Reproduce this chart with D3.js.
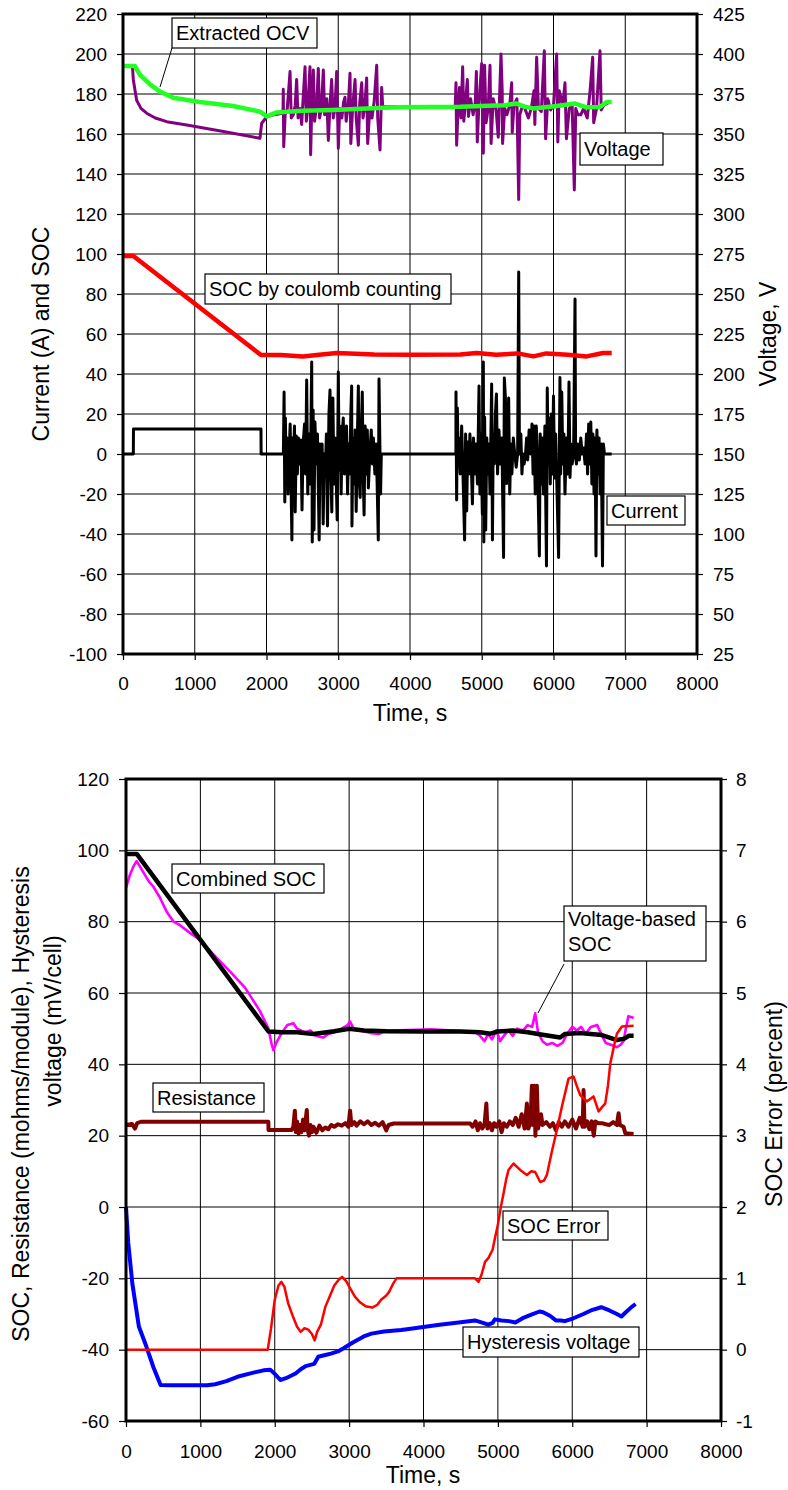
<!DOCTYPE html>
<html><head><meta charset="utf-8">
<script src="https://cdn.jsdelivr.net/npm/d3@7"></script>
<style>
body{margin:0;background:#fff}
text{font-family:"Liberation Sans",Arial,Helvetica,sans-serif;fill:#000}
</style>
</head><body>
<svg id="c" width="788" height="1490"></svg>
<script>
// ---------- tick labels ----------
const timeTicks = [0,1000,2000,3000,4000,5000,6000,7000,8000];
const currentTicks = [-100,-80,-60,-40,-20,0,20,40,60,80,100,120,140,160,180,200,220];
const voltageTicks = [25,50,75,100,125,150,175,200,225,250,275,300,325,350,375,400,425];
const leftTicks2 = [-60,-40,-20,0,20,40,60,80,100,120];
const errorTicks = [-1,0,1,2,3,4,5,6,7,8];

// ---------- top chart series ([time s, value]) ----------
const extractedOCV = [[0,392.5],[165,392.5],[237,387],[376,381],[516,376.5],[701,372.7],[1073,370],[1533,367.5],[1909,364],[2003,361],[2142,363.5],[2500,364.5],[2927,365],[3400,366],[3815,366.7],[4300,366.8],[4700,367],[5000,367.5],[5300,368],[5487,369],[5600,367],[5719,366],[6044,367.5],[6300,369],[6463,366.7],[6648,366.9],[6741,370],[6811,370]];

const voltage = [[0,392.5],[130,392.5],[135,390],[144,383.8],[191,371],[250,366],[330,363],[450,360],[609,357.7],[888,355.6],[1400,351.5],[1909,347.3],[1920,352],[1933,356.7],[2003,360.8],[2100,362],[2230,363],
[2234,378],[2240,342],[2260,362],[2290,366],[2328,389],[2345,360],[2374,362],[2400,368],[2420,384],[2440,360],[2470,366],[2490,356],[2510,372],[2537,392],[2555,358],[2580,370],[2606,392],[2615,337],[2630,365],[2653,390],[2670,358],[2700,368],[2722,391],[2740,360],[2765,366],[2792,390],[2810,362],[2840,372],[2862,346],[2885,368],[2908,384],[2930,360],[2955,366],[2978,389],[3001,341],[3020,366],[3050,360],[3075,370],[3094,373],[3110,358],[3140,368],[3164,388],[3175,344],[3200,366],[3234,384],[3250,360],[3280,343],[3300,370],[3327,382],[3345,360],[3370,367],[3396,385],[3410,344],[3440,366],[3470,360],[3500,370],[3536,393],[3550,360],[3582,340],[3605,379],[3620,367],
[4000,367],[4630,367],
[4641,382],[4650,343],[4670,366],[4690,379],[4710,360],[4734,392],[4750,358],[4775,370],[4799,384],[4815,361],[4845,372],[4880,362],[4910,370],[4925,389],[4938,345],[4960,368],[4999,394],[5022,338],[5040,393],[5060,357],[5090,366],[5115,393],[5130,344],[5160,372],[5200,365],[5230,348],[5268,400],[5285,377],[5290,344],[5320,366],[5350,362],[5390,368],[5417,382],[5425,351],[5450,368],[5490,372],[5515,309],[5530,362],[5570,368],[5600,366],[5650,360],[5690,366],[5728,377],[5740,356],[5765,398],[5790,366],[5830,364],[5872,402],[5890,347],[5920,372],[5960,365],[6000,368],[6044,400],[6060,345],[6080,377],[6130,368],[6160,382],[6180,347],[6220,366],[6260,368],[6290,315],[6310,366],[6340,362],[6380,362],[6420,366],[6470,360],[6510,377],[6546,398],[6560,357],[6600,366],[6648,402],[6665,365],[6700,368],[6788,370]];

const socCoulomb = [[0,99],[144,99],[1923,49.5],[2200,49.5],[2509,48.7],[2700,49.5],[2978,50.5],[3500,49.8],[4000,49.6],[4700,49.7],[4930,50.5],[5200,49.6],[5500,50.3],[5720,48.8],[5900,50.3],[6200,49.6],[6463,48.8],[6690,50.5],[6811,50.5]];

const current = [[0,0],[144,0],[146,12.5],[1923,12.5],[1925,0],[2225,0],
[2235,0],[2245,31],[2255,-24],[2263,18],[2275,-10],[2290,8],[2300,-20],[2315,0],[2330,15],[2354,-43],[2362,8],[2375,-5],[2390,14],[2400,-29],[2415,9],[2430,-10],[2445,8],[2465,-5],[2480,7],[2495,-28],[2510,5],[2530,15],[2545,-10],[2560,37],[2575,-20],[2595,10],[2610,-15],[2630,46],[2638,-44],[2650,22],[2662,-38],[2675,16],[2695,-5],[2710,10],[2734,-43],[2745,5],[2760,-10],[2775,5],[2790,-35],[2805,0],[2820,-8],[2835,10],[2850,-36],[2870,20],[2885,32],[2895,-5],[2910,-29],[2925,28],[2940,-15],[2955,8],[2970,-10],[2985,-33],[3001,41],[3012,-8],[3025,14],[3040,-20],[3055,10],[3070,18],[3085,-10],[3100,-5],[3115,14],[3130,-20],[3145,5],[3160,-10],[3175,20],[3187,34],[3191,-36],[3205,8],[3220,-15],[3235,12],[3250,-28.8],[3265,5],[3280,34],[3290,-10],[3305,-21.7],[3320,10],[3335,31],[3345,-5],[3360,-30.5],[3375,14],[3390,-10],[3405,12],[3420,-17],[3440,0],[3460,12],[3475,-5],[3490,8],[3510,-10],[3530,5],[3545,-20],[3558,-43],[3568,37.5],[3580,5],[3590,-20],[3600,0],[4640,0],
[4641,31],[4650,-23],[4660,23],[4670,0],[4680,8],[4700,-10],[4720,14],[4735,-5],[4761,-43],[4775,10],[4790,-28.5],[4805,6],[4820,-10],[4835,10],[4850,0],[4870,-25],[4885,8],[4900,-10],[4920,5],[4940,-15],[4962,34],[4975,-20],[4990,10],[5008,-30],[5022,46],[5029,-44],[5040,18.5],[5055,-38],[5070,8],[5085,-10],[5100,5],[5115,-20],[5138,35],[5149,-43],[5160,10],[5175,-5],[5190,20],[5205,30],[5220,-10],[5240,12],[5260,-5],[5280,8],[5304,-51.7],[5315,38],[5330,28],[5345,-14.8],[5360,10],[5375,28],[5390,-20],[5405,5],[5420,-10],[5440,8],[5460,0],[5480,-6.6],[5500,0],[5515,91],[5525,0],[5545,10],[5560,-10],[5575,0],[5590,-5],[5610,0],[5625,8],[5640,-3],[5660,12],[5680,0],[5700,15],[5715,-10],[5730,14],[5745,-20],[5760,14],[5775,0],[5803,-51],[5815,10],[5830,-15],[5845,8],[5860,-20],[5880,14],[5902,-56],[5913,33],[5925,-5],[5940,18],[5955,-15],[5970,20],[5985,-10],[6000,29],[6015,-12],[6030,10],[6050,-20],[6071,-51.7],[6090,38.3],[6100,-10],[6115,31],[6130,-5],[6145,10],[6160,-20],[6180,8],[6200,-10],[6216,36],[6230,-11.7],[6245,5],[6260,-5],[6280,0],[6300,77.5],[6308,0],[6320,-5],[6340,5],[6360,-3],[6380,8],[6400,0],[6420,3],[6440,-5],[6460,10],[6475,-10],[6490,15],[6505,-5],[6520,16],[6535,-15],[6550,10],[6565,-20],[6580,8],[6592,-51],[6605,12],[6620,-10],[6635,8],[6650,-20],[6665,5],[6683,-56],[6695,5],[6710,0],[6811,0]];

// ---------- bottom chart series ----------
const combinedSOC = [[0,99],[144,99],[1915,49.2],[2100,49],[2300,49],[2520,48.5],[2800,49.3],[3000,50],[3200,49.5],[3500,49.3],[4000,49.2],[4500,49.2],[4762,49],[4900,48.6],[5000,49.2],[5200,49.5],[5400,49],[5600,48.3],[5838,47.5],[5900,48.5],[6100,48.8],[6400,48.2],[6600,46.8],[6700,47.2],[6760,48],[6825,48]];

const voltageSOC = [[0,89.5],[50,93],[100,95.5],[144,97],[200,95],[300,91.5],[368,89.8],[450,87],[547,82.8],[640,80],[726,79],[850,77],[995,74.9],[1200,70.3],[1400,66],[1600,61.5],[1800,55],[1915,50],[1960,45.5],[1982,44],[2020,46],[2100,49],[2170,51],[2251,51.5],[2300,50],[2400,49],[2480,49.5],[2550,48],[2650,47.5],[2720,48.5],[2800,49],[2900,50],[2980,51],[3013,52],[3060,50],[3150,49.5],[3300,48.7],[3400,48.5],[3500,49.5],[3800,49.6],[4100,49.8],[4400,49.5],[4700,49],[4760,48],[4820,46.5],[4870,48.5],[4920,47],[4980,49.5],[5030,46.5],[5080,48],[5140,49.5],[5200,48],[5260,50],[5340,49.5],[5400,51],[5460,50.5],[5502,54.3],[5540,49],[5600,46.5],[5660,45.5],[5730,46],[5800,45.2],[5870,46],[5930,48.5],[6000,50.5],[6060,49.5],[6120,50.5],[6180,48.5],[6250,50.5],[6336,51],[6400,48],[6450,46],[6520,45.5],[6600,44.8],[6650,45.5],[6690,46.5],[6720,50],[6755,53.5],[6800,53.2],[6825,53]];

const resistance = [[0,23],[80,23.3],[121,22],[150,23.5],[200,23.9],[1914,23.9],[1916,21.6],[2229,21.6],[2250,22.5],[2270,27],[2285,21],[2300,24],[2320,20.5],[2340,23],[2360,21],[2380,24.5],[2400,21.5],[2431,27.2],[2440,22],[2460,20],[2480,23],[2500,21],[2520,22.5],[2560,20.8],[2600,22.8],[2640,21.5],[2680,22.3],[2720,21.8],[2760,23],[2800,22.5],[2850,23.2],[2900,22.8],[2950,23.5],[2990,22.5],[3013,27],[3030,23],[3070,23.8],[3100,22.8],[3150,24],[3200,23.2],[3250,24],[3300,23],[3350,23.6],[3400,22.8],[3450,23.8],[3500,21.5],[3530,23],[3600,23.4],[4627,23.4],[4660,22.5],[4700,24],[4730,21.5],[4760,23.5],[4790,22],[4820,23],[4845,29],[4860,22],[4890,23.5],[4920,21.5],[4950,23.5],[4980,22.5],[5020,24],[5050,21],[5080,23.5],[5120,22.5],[5160,24],[5200,23],[5240,25],[5280,22.5],[5320,26],[5360,22],[5390,29],[5410,22],[5440,24],[5457,34],[5470,23],[5490,34],[5505,20],[5524,34],[5540,22],[5580,26],[5600,23],[5650,23.8],[5700,22.5],[5740,23.5],[5780,21.5],[5820,23.8],[5860,22.5],[5900,24],[5950,22.5],[6000,24.5],[6050,22],[6100,25],[6140,22.5],[6152,32.8],[6165,22.5],[6200,24],[6230,21.8],[6260,24],[6290,20],[6310,24],[6350,23.5],[6400,23.5],[6450,23.2],[6500,23],[6550,23.8],[6600,23],[6623,26.3],[6640,23],[6690,22.5],[6713,20.7],[6825,20.5]];

const socError = [[0,0],[1906,0],[1950,0.3],[2000,0.7],[2050,0.9],[2089,0.95],[2130,0.88],[2180,0.65],[2250,0.45],[2300,0.32],[2348,0.25],[2400,0.3],[2450,0.28],[2500,0.22],[2537,0.13],[2570,0.25],[2620,0.35],[2680,0.6],[2740,0.75],[2800,0.9],[2860,0.98],[2905,1.02],[2960,0.96],[3020,0.85],[3080,0.74],[3150,0.66],[3220,0.61],[3312,0.59],[3380,0.63],[3430,0.7],[3500,0.76],[3537,0.81],[3600,0.94],[3638,1.0],[4691,1.0],[4740,0.95],[4780,1.05],[4827,1.23],[4870,1.28],[4929,1.40],[4964,1.58],[5000,1.75],[5040,2.0],[5076,2.19],[5110,2.38],[5143,2.52],[5210,2.61],[5300,2.52],[5390,2.45],[5450,2.5],[5502,2.49],[5569,2.35],[5620,2.37],[5659,2.45],[5720,2.75],[5793,3.08],[5861,3.41],[5950,3.80],[6017,3.83],[6060,3.7],[6107,3.57],[6197,3.48],[6286,3.55],[6354,3.34],[6400,3.4],[6443,3.45],[6480,3.7],[6511,4.01],[6560,4.25],[6600,4.43],[6668,4.53],[6825,4.54]];

const hysteresis = [[0,0],[30,-10],[85,-21.4],[173,-33.5],[275,-39.2],[370,-45],[465,-49.9],[600,-50],[1090,-50],[1200,-49.7],[1350,-48.8],[1498,-47.6],[1700,-46.5],[1850,-45.8],[1939,-45.6],[2000,-46.8],[2075,-48.5],[2150,-48],[2280,-46.7],[2350,-45.5],[2415,-44.6],[2530,-44],[2585,-42],[2680,-41.5],[2755,-41.1],[2850,-40.5],[2925,-39.6],[3050,-38],[3197,-36.3],[3300,-35.5],[3468,-34.9],[3700,-34.5],[3876,-34],[4216,-33],[4500,-32.3],[4691,-31.8],[4800,-32.5],[4870,-33],[4929,-32.5],[4960,-31.5],[5050,-31.8],[5150,-32],[5235,-32.4],[5350,-31],[5450,-30.2],[5560,-29.3],[5608,-29.5],[5700,-30.5],[5780,-31.8],[5846,-31.8],[5900,-32],[6016,-31.2],[6150,-30],[6250,-29],[6390,-28.1],[6500,-29],[6600,-30],[6661,-30.7],[6720,-29.5],[6800,-28],[6852,-27.2]];

// ---------- drawing ----------
const svg = d3.select('#c');
const FONT = 19, TITLE = 23, NOTE = 20;
const plain = d => String(d);   // ASCII hyphen-minus like the original

function frame(cfg){
  const g = svg.append('g');
  const [x0,x1] = cfg.x.range(); const [y0,y1] = cfg.yL.range();
  g.append('g').selectAll('line').data(cfg.leftTicks).join('line')
    .attr('x1',x0).attr('x2',x1).attr('y1',d=>cfg.yL(d)).attr('y2',d=>cfg.yL(d))
    .attr('stroke','#000').attr('stroke-width',1);
  g.append('g').selectAll('line').data(timeTicks).join('line')
    .attr('y1',y0).attr('y2',y1).attr('x1',d=>cfg.x(d)).attr('x2',d=>cfg.x(d))
    .attr('stroke','#000').attr('stroke-width',1);
  const ax = [
    g.append('g').attr('transform',`translate(${x0},0)`).call(d3.axisLeft(cfg.yL).tickValues(cfg.leftTicks).tickFormat(plain).tickSize(cfg.tl).tickPadding(cfg.pl).tickSizeOuter(0)),
    g.append('g').attr('transform',`translate(${x1},0)`).call(d3.axisRight(cfg.yR).tickValues(cfg.rightTicks).tickFormat(plain).tickSize(6).tickPadding(cfg.pr).tickSizeOuter(0)),
    g.append('g').attr('transform',`translate(0,${y0})`).call(d3.axisBottom(cfg.x).tickValues(timeTicks).tickFormat(plain).tickSize(6).tickPadding(cfg.pb).tickSizeOuter(0))
  ];
  ax.forEach(a=>{
    a.attr('font-size',FONT).attr('font-family','"Liberation Sans",Arial,sans-serif');
    a.select('.domain').remove();
    a.selectAll('line').attr('stroke','#000').attr('stroke-width',1.2);
  });
  return g;
}
function border(cfg){
  const [x0,x1] = cfg.x.range(); const [y0,y1] = cfg.yL.range();
  svg.append('rect').attr('x',x0).attr('y',y1).attr('width',x1-x0).attr('height',y0-y1)
    .attr('fill','none').attr('stroke','#000').attr('stroke-width',3);
}
function series(data,xs,ys,color,w){
  svg.append('path').datum(data)
    .attr('d',d3.line().x(d=>xs(d[0])).y(d=>ys(d[1])))
    .attr('fill','none').attr('stroke',color).attr('stroke-width',w)
    .attr('stroke-linejoin','round').attr('stroke-linecap','butt');
}
function note(x,y,w,h,lines){
  svg.append('rect').attr('x',x).attr('y',y).attr('width',w).attr('height',h)
    .attr('fill','#fff').attr('stroke','#000').attr('stroke-width',1.2);
  lines.forEach((l,i)=>{
    svg.append('text').attr('x',x+4).attr('y',y+h/lines.length*(i+0.5)+7).attr('font-size',NOTE).text(l);
  });
}
function leader(xa,ya,xb,yb){
  svg.append('line').attr('x1',xa).attr('y1',ya).attr('x2',xb).attr('y2',yb).attr('stroke','#000').attr('stroke-width',1);
}
function vtitle(x,y,txt,size){
  svg.append('text').attr('transform',`translate(${x},${y}) rotate(-90)`)
    .attr('text-anchor','middle').attr('font-size',size||TITLE).text(txt);
}

// ===== chart 1 =====
const c1 = {
  x: d3.scaleLinear([0,8000],[123,697]),
  yL: d3.scaleLinear([-100,220],[654,14]),
  yR: d3.scaleLinear([25,425],[654,14]),
  leftTicks: currentTicks, rightTicks: voltageTicks, tl:6, pl:10, pr:10, pb:17
};
frame(c1);
series(current,c1.x,c1.yL,'#000',3);
series(socCoulomb,c1.x,c1.yL,'#ff0000',4.5);
series(voltage,c1.x,c1.yR,'#800080',3);
series(extractedOCV,c1.x,c1.yR,'#22ff22',4.5);
border(c1);
svg.append('text').attr('x',410).attr('y',721).attr('text-anchor','middle').attr('font-size',TITLE).text('Time, s');
vtitle(49,334,'Current (A) and SOC');
vtitle(776,334,'Voltage, V');
leader(172,48,160,87);
note(172,18,145,30,['Extracted OCV']);
note(580,133,83,32,['Voltage']);
note(205,274,246,30,['SOC by coulomb counting']);
note(607,496,78,29,['Current']);

// ===== chart 2 =====
const c2 = {
  x: d3.scaleLinear([0,8000],[126,721]),
  yL: d3.scaleLinear([-60,120],[1421,779]),
  yR: d3.scaleLinear([-1,8],[1421,779]),
  leftTicks: leftTicks2, rightTicks: errorTicks, tl:7, pl:10, pr:9, pb:18
};
frame(c2);
series(hysteresis,c2.x,c2.yL,'#0000ff',4);
series(resistance,c2.x,c2.yL,'#800000',4);
series(voltageSOC,c2.x,c2.yL,'#ff00ff',2.6);
series(combinedSOC,c2.x,c2.yL,'#000',4.5);
series(socError,c2.x,c2.yR,'#ff0000',2.5);
border(c2);
svg.append('text').attr('x',423).attr('y',1483).attr('text-anchor','middle').attr('font-size',TITLE).text('Time, s');
vtitle(29,1104,'SOC, Resistance (mohms/module), Hysteresis');
vtitle(61,1021,'voltage (mV/cell)');
vtitle(782,1104,'SOC Error (percent)');
leader(564,964,538,1013);
note(172,864,152,29,['Combined SOC']);
svg.append('rect').attr('x',564).attr('y',906).attr('width',142).attr('height',55).attr('fill','#fff').attr('stroke','#000').attr('stroke-width',1.2);
svg.append('text').attr('x',568).attr('y',926).attr('font-size',NOTE).text('Voltage-based');
svg.append('text').attr('x',568).attr('y',951).attr('font-size',NOTE).text('SOC');
note(153,1083,111,29,['Resistance']);
note(503,1211,105,29,['SOC Error']);
note(463,1327,176,30,['Hysteresis voltage']);
</script>
</body></html>
